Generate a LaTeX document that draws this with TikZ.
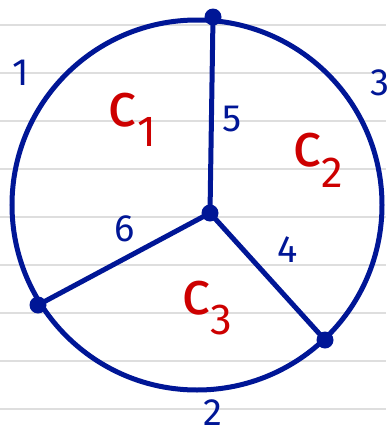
\documentclass[tikz,border=0pt]{standalone}
\usepackage{fontspec}
\setmainfont{Fira Sans}
\definecolor{ink}{RGB}{0,22,150}
\definecolor{redink}{RGB}{205,0,0}
\definecolor{rule}{RGB}{222,222,222}
\begin{document}
\begin{tikzpicture}[x=1pt,y=-1pt,
  ruleline/.style={draw=rule,line width=2.5pt},
  edge/.style={draw=ink,line width=5pt},
  vdot/.style={circle,fill=ink,inner sep=0pt,minimum size=17pt},
  elabel/.style={text=ink,font=\fontsize{38}{38}\selectfont,inner sep=0pt},
  clabel/.style={text=redink,font=\fontsize{62}{62}\selectfont,inner sep=0pt}]
\useasboundingbox[fill=white] (0,0) rectangle (386,434);
\foreach \y in {25,73,121,169,217,265,313,361,409}
  \draw[ruleline] (0,\y) -- (386,\y);
\draw[edge] (197,205) circle[radius=185];
\node[vdot] (top) at (213,17) {};
\node[vdot] (mid) at (210,213) {};
\node[vdot] (lft) at (38,305) {};
\node[vdot] (rgt) at (325,340) {};
\draw[edge] (mid.center) -- (top.center);
\draw[edge] (mid.center) -- (lft.center);
\draw[edge] (mid.center) -- (rgt.center);
\node[elabel] (l1) at (21,73) {1};
\node[elabel] (l3) at (380,83) {3};
\node[elabel] (l5) at (232,119) {5};
\node[elabel] (l6) at (125,229) {6};
\node[elabel] (l4) at (288,250) {4};
\node[elabel] (l2) at (213,413) {2};
\node[clabel] (c1) at (132,120) {c\textsubscript{1}};
\node[clabel] (c2) at (318,160) {c\textsubscript{2}};
\node[clabel] (c3) at (207,308) {c\textsubscript{3}};
\end{tikzpicture}
\end{document}
